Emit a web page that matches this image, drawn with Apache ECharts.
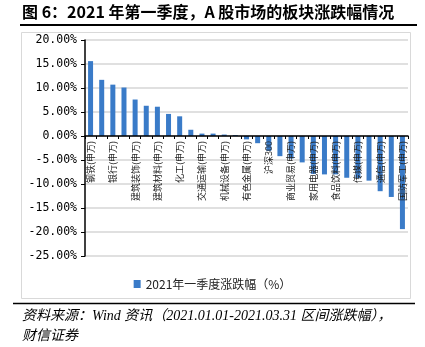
<!DOCTYPE html>
<html><head><meta charset="utf-8">
<script src="https://cdn.jsdelivr.net/npm/echarts@6/dist/echarts.min.js"></script>
<style>html,body{margin:0;padding:0;background:#fff}#c{width:425px;height:347px}</style>
</head><body><div id="c"></div>
<script>
const categories = ['钢铁(申万)','采掘(申万)','银行(申万)','休闲服务(申万)','建筑装饰(申万)','公用事业(申万)','建筑材料(申万)','纺织服装(申万)','化工(申万)','轻工制造(申万)','交通运输(申万)','房地产(申万)','机械设备(申万)','农林牧渔(申万)','有色金属(申万)','汽车(申万)','沪深300','综合(申万)','商业贸易(申万)','医药生物(申万)','家用电器(申万)','非银金融(申万)','食品饮料(申万)','电子(申万)','传媒(申万)','计算机(申万)','通信(申万)','电气设备(申万)','国防军工(申万)'];
const values = [15.6,11.7,10.7,10.1,7.6,6.3,6.1,4.6,4.1,1.3,0.5,0.5,0.3,0.2,-0.7,-1.5,-3.1,-4.2,-4.7,-5.5,-7.9,-8.0,-8.0,-8.7,-8.8,-9.3,-11.5,-12.7,-19.4];
const seriesName = '2021年一季度涨跌幅（%）';
const titleText = '图 6：2021 年第一季度，A 股市场的板块涨跌幅情况';
const sourceLine1 = '资料来源：Wind 资讯（2021.01.01-2021.03.31 区间涨跌幅），';
const sourceLine2 = '财信证券';

const chart = echarts.init(document.getElementById('c'));
chart.setOption({
  animation: false,
  backgroundColor: '#fff',
  grid: {left: 85, right: 17, top: 40, bottom: 91, containLabel: false},
  graphic: [
    {type: 'text', left: 22, top: 4, style: {text: titleText, font: 'bold 16px "Noto Sans CJK SC"', fill: '#000'}},
    {type: 'line', shape: {x1: 20, y1: 25, x2: 417, y2: 25}, style: {stroke: '#000', lineWidth: 2}},
    {type: 'rect', shape: {x: 21.5, y: 32.5, width: 389, height: 266}, style: {fill: 'none', stroke: '#d9d9d9', lineWidth: 1}, z: -1},
    {type: 'line', shape: {x1: 13, y1: 303.5, x2: 415, y2: 303.5}, style: {stroke: '#000', lineWidth: 1.5}},
    {type: 'text', left: 22, top: 309, style: {text: sourceLine1, font: 'italic 14px "Liberation Serif", "Noto Sans CJK SC"', fill: '#000'}},
    {type: 'text', left: 22, top: 329, style: {text: sourceLine2, font: 'italic 14px "Liberation Serif", "Noto Sans CJK SC"', fill: '#000'}}
  ],
  legend: {
    data: [seriesName], top: 273, left: 'center', itemWidth: 7, itemHeight: 8, itemGap: 2,
    icon: 'rect',
    textStyle: {fontSize: 12, color: '#222', fontFamily: 'Noto Sans CJK SC'}
  },
  xAxis: {
    type: 'category', data: categories, z: 5, offset: -120,
    axisLine: {onZero: false, lineStyle: {color: '#000', width: 1.5}},
    axisTick: {show: true, interval: 0, length: 3, lineStyle: {color: '#000'}},
    axisLabel: {interval: 1, rotate: 90, fontSize: 9, margin: 5, color: '#222', fontFamily: 'Noto Sans CJK SC'}
  },
  yAxis: {
    type: 'value', min: -25, max: 20, interval: 5,
    axisLine: {show: true, lineStyle: {color: '#000', width: 1.5}},
    axisTick: {show: true, length: 4, lineStyle: {color: '#000'}},
    axisLabel: {formatter: v => v.toFixed(2) + '%', fontSize: 11.5, margin: 8, color: '#000', fontFamily: 'DejaVu Sans Mono'},
    splitLine: {lineStyle: {color: '#e0e0e0', width: 2}}
  },
  series: [{
    name: seriesName, type: 'bar', data: values, barWidth: 5,
    itemStyle: {color: '#3A7BC8'}
  }]
});
</script></body></html>
